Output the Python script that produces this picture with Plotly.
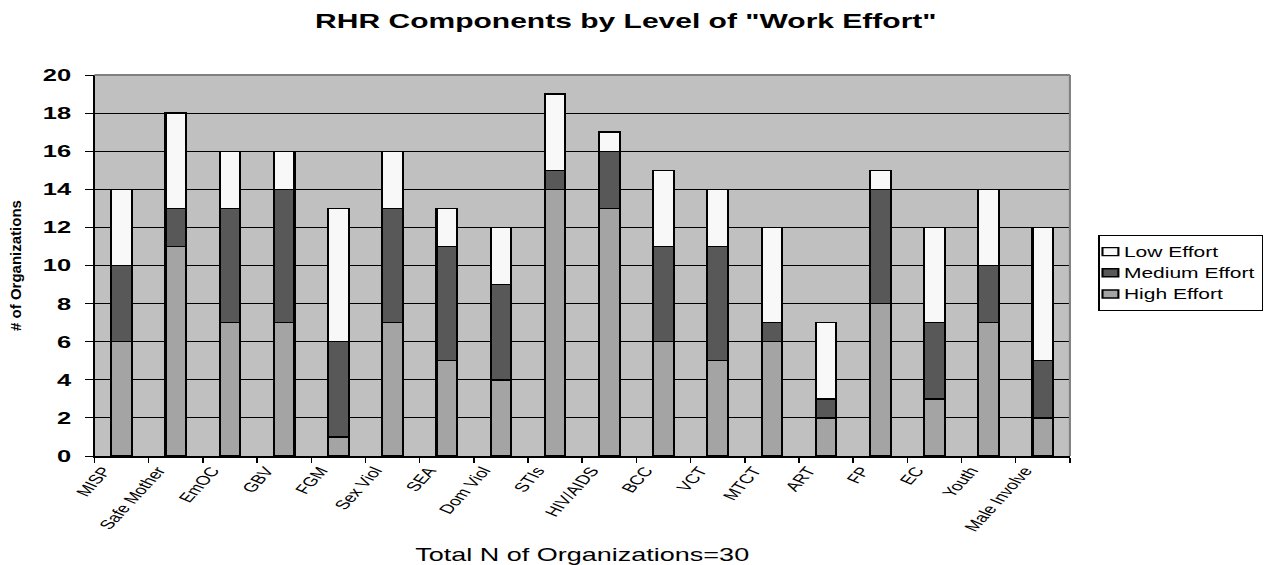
import plotly.graph_objects as go

categories = ["MISP", "Safe Mother", "EmOC", "GBV", "FGM", "Sex Viol", "SEA",
              "Dom Viol", "STIs", "HIV/AIDS", "BCC", "VCT", "MTCT", "ART",
              "FP", "EC", "Youth", "Male Involve"]
high_effort = [6, 11, 7, 7, 1, 7, 5, 4, 14, 13, 6, 5, 6, 2, 8, 3, 7, 2]
medium_effort = [4, 2, 6, 7, 5, 6, 6, 5, 1, 3, 5, 6, 1, 1, 6, 4, 3, 3]
low_effort = [4, 5, 3, 2, 7, 3, 2, 3, 4, 1, 4, 3, 5, 4, 1, 5, 4, 7]
y_ticks = list(range(0, 21, 2))

# The chart is laid out on a narrower canvas and then widened horizontally
# to fill the page, giving the broad lettering of the exported figure.
PAGE_W, PAGE_H = 1271, 565
BASE_W = 847
STRETCH = PAGE_W / BASE_W
M_L, M_R, M_T, M_B = 63, 126, 75, 109
PLOT_W = BASE_W - M_L - M_R
PLOT_H = PAGE_H - M_T - M_B

# legend box (unstretched px)
LEG_LEFT, LEG_TOP, LEG_W = 732, 235, 109

series = [
    ("High Effort", high_effort, "#A4A4A4"),
    ("Medium Effort", medium_effort, "#585858"),
    ("Low Effort", low_effort, "#F8F8F8"),
]

fig = go.Figure()
for name, vals, color in series:
    fig.add_trace(go.Bar(
        name=name, x=categories, y=vals,
        marker=dict(color=color, line=dict(color="black", width=1.4)),
        width=0.38,
    ))

FONT = "Liberation Sans, Arial, sans-serif"

fig.update_layout(
    width=BASE_W, height=PAGE_H,
    barmode="stack",
    paper_bgcolor="white",
    plot_bgcolor="#C0C0C0",
    margin=dict(l=M_L, r=M_R, t=M_T, b=M_B),
    title=dict(
        text='RHR Components by Level of "Work Effort"',
        x=210 / BASE_W, xref="container", xanchor="left",
        y=1 - 21 / PAGE_H, yref="container", yanchor="middle",
        font=dict(family=FONT, size=20, color="black", weight="bold"),
    ),
    font=dict(family=FONT, color="black"),
    # anchored at the right page edge so it never pushes the margins;
    # the script below moves it next to the plot area
    legend=dict(
        traceorder="reversed",
        x=(BASE_W - 2 - M_L) / PLOT_W, xanchor="right",
        y=1 - (LEG_TOP - M_T) / PLOT_H, yanchor="top",
        bgcolor="white", bordercolor="black", borderwidth=1,
        font=dict(family=FONT, size=14, color="black"),
        tracegroupgap=0,
    ),
    showlegend=True,
)

fig.update_xaxes(
    type="category",
    automargin=False,
    tickangle=-58,
    tickfont=dict(family=FONT, size=13, color="black"),
    ticks="outside", tickson="boundaries", ticklen=5, tickcolor="black",
    ticklabelshift=-12,
    showline=True, linecolor="black", linewidth=2,
    showgrid=False,
    title=dict(text="Total N of Organizations=30",
               font=dict(family=FONT, size=18, color="black"),
               standoff=15),
)

fig.update_yaxes(
    range=[0, 20],
    automargin=False,
    tickvals=y_ticks,
    tickfont=dict(family=FONT, size=17, color="black", weight="bold"),
    ticks="outside", ticklen=5, tickcolor="black", ticklabelstandoff=6,
    showline=True, linecolor="black", linewidth=1.3,
    showgrid=True, gridcolor="black", gridwidth=1,
    zeroline=False,
    title=dict(text="# of Organizations",
               font=dict(family=FONT, size=15, color="black", weight="bold"),
               standoff=12),
)

# grey frame along the top and right of the plot area
fig.add_shape(type="line", xref="paper", yref="paper", x0=0, x1=1, y0=1, y1=1,
              line=dict(color="#808080", width=2), layer="above")
fig.add_shape(type="line", xref="paper", yref="paper", x0=1, x1=1, y0=0, y1=1,
              line=dict(color="#808080", width=1.4), layer="above")

post = """
var gd = document.getElementById('{plot_id}');
var sx = %(sx)f;
// vertical axis title keeps its natural proportions
gd.querySelectorAll('text.ytitle').forEach(function (el) {
  var x = parseFloat(el.getAttribute('x')), y = parseFloat(el.getAttribute('y'));
  var t = el.getAttribute('transform') || '';
  el.setAttribute('transform', 'translate(' + x + ',' + y + ') scale(' + (1 / sx) +
                  ',1) translate(' + (-x) + ',' + (-y) + ') ' + t);
});
// compact legend: small swatches sitting close to their labels
gd.querySelectorAll('.legend .traces').forEach(function (tr) {
  var txt = tr.querySelector('.legendtext');
  if (txt) txt.setAttribute('x', 16);
  tr.querySelectorAll('.legendpoints path').forEach(function (p) {
    p.setAttribute('d', 'M5.3,4H-5.3V-4H5.3Z');
    p.setAttribute('transform', 'translate(7,0)');
  });
});
var leg = gd.querySelector('g.legend');
if (leg) {
  var m = /translate\\(([-\\d.]+)[ ,]+([-\\d.]+)\\)/.exec(leg.getAttribute('transform') || '');
  var ly = m ? parseFloat(m[2]) : %(top)f;
  leg.setAttribute('transform', 'translate(%(left)f,' + ly + ')');
  var bg = leg.querySelector('rect.bg');
  if (bg) bg.setAttribute('width', %(w)f);
}
gd.style.transformOrigin = '0 0';
gd.style.transform = 'scale(' + sx + ',1)';
""" % {"sx": STRETCH, "left": LEG_LEFT, "top": LEG_TOP, "w": LEG_W}

fig.write_html("out.html", post_script=post)
